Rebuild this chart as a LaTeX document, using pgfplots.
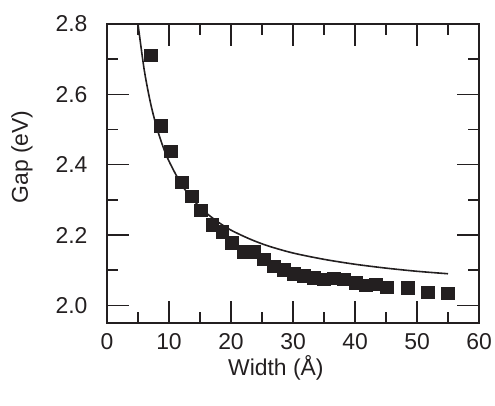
\documentclass[border=0pt]{standalone}
\usepackage{pgfplots}
\pgfplotsset{compat=1.18}
\usepackage{fontspec}
\setmainfont{Liberation Sans}
\definecolor{ink}{HTML}{231F20}
\newcommand\bigf{\fontsize{23}{27}\selectfont}
\begin{document}
\begin{tikzpicture}
\begin{axis}[
  scale only axis, width=372bp, height=299bp,
  xmin=0, xmax=60, ymin=1.95, ymax=2.8,
  xtick={0,10,...,60}, minor xtick={5,15,...,55},
  ytick={2.0,2.2,2.4,2.6,2.8}, minor ytick={2.1,2.3,2.5,2.7},
  tick align=inside, tick pos=both,
  major tick length=22bp, minor tick length=11bp,
  every tick/.style={ink, line width=1.5bp},
  axis line style={ink, line width=1.5bp},
  /pgf/number format/assume math mode=true,
  y tick label style={/pgf/number format/fixed, /pgf/number format/fixed zerofill, /pgf/number format/precision=1},
  tick label style={font=\bigf, text=ink},
  yticklabel style={xshift=-16bp},
  xticklabel style={yshift=-7bp},
  every axis y label/.style={at={(rel axis cs:0,0.555)}, xshift=-85bp, rotate=90, anchor=center, text=ink, font=\bigf},
  every axis x label/.style={at={(rel axis cs:0.454,0)}, yshift=-45bp, anchor=center, text=ink, font=\bigf},
  xlabel={Width (Å)}, ylabel={Gap (eV)},
  clip=false,
]
\addplot[ink, line width=1.6bp, smooth] coordinates {
(5,2.800) (6,2.670) (7,2.577) (8,2.507) (9,2.453) (10,2.410) (12,2.344) (14,2.298)
(16,2.263) (18,2.236) (20,2.214) (23,2.189) (26,2.169) (30,2.149) (35,2.131)
(40,2.117) (45,2.106) (50,2.097) (55,2.090)};
\addplot[only marks, mark=square*, mark size=6.3bp, ink, mark options={fill=ink, draw=ink, line width=0pt}] coordinates {
(7.1,2.711) (8.7,2.51) (10.3,2.437) (12.1,2.349) (13.7,2.31) (15.2,2.270)
(17.0,2.229) (18.6,2.209) (20.2,2.177) (22.1,2.151) (23.7,2.151) (25.3,2.130)
(26.9,2.111) (28.5,2.100) (30.2,2.089) (31.8,2.083) (33.4,2.078) (35.0,2.074)
(36.6,2.077) (38.2,2.074) (40.2,2.063) (41.8,2.057) (43.4,2.060) (45.2,2.051)
(48.5,2.049) (51.8,2.037) (55.0,2.034)};
\end{axis}
\pgfresetboundingbox
\path ([xshift=-107bp,yshift=-83bp]current axis.south west) rectangle ([xshift=16bp,yshift=24bp]current axis.north east);
\end{tikzpicture}
\end{document}
